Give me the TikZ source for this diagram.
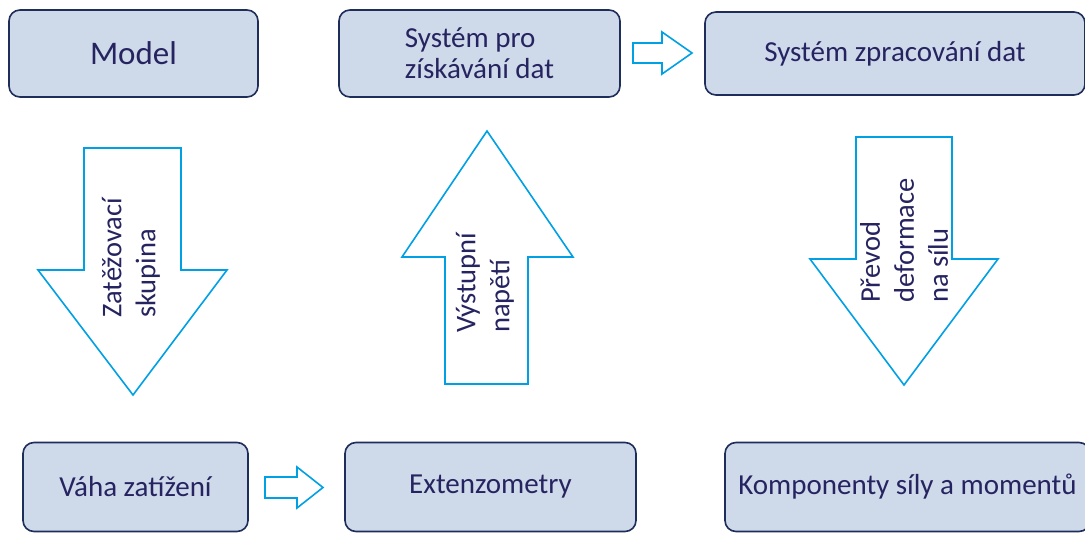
\documentclass[tikz,border=0pt]{standalone}
\usepackage{fontspec}
\setmainfont{Carlito}
\definecolor{boxfill}{RGB}{206,217,234}
\definecolor{boxline}{RGB}{31,45,90}
\definecolor{txt}{RGB}{38,36,96}
\definecolor{arrowblue}{RGB}{0,160,228}
\begin{document}
\begin{tikzpicture}[x=1pt,y=-1pt,
  boxnode/.style={draw=boxline,fill=boxfill,line width=1.6pt,rounded corners=11pt,
    text=txt,font=\fontsize{29}{31}\selectfont,align=left,inner sep=0pt},
  blockarrow/.style={draw=arrowblue,line width=1.6pt,fill=white,line join=miter},
  arrowtext/.style={rotate=90,anchor=west,inner sep=0pt,align=left,text=txt,
    font=\fontsize{28.5}{34}\selectfont}]
\useasboundingbox[fill=white] (0,0) rectangle (1085,533);
% top row
\node[boxnode,minimum width=249pt,minimum height=87pt,font=\fontsize{33}{36}\selectfont] (model) at (133.5,53.5) {Model};
\node[boxnode,minimum width=281pt,minimum height=87pt] (sber) at (479.5,53.5) {Systém pro\\získávání dat};
\node[boxnode,minimum width=380pt,minimum height=83pt] (zprac) at (895,53.5) {Systém zpracování dat};
% bottom row
\node[boxnode,minimum width=225pt,minimum height=89pt] (vaha) at (135.5,487) {Váha zatížení};
\node[boxnode,minimum width=291pt,minimum height=89pt] (ext) at (490.5,487) {Extenzometry};
\node[boxnode,minimum width=365pt,minimum height=89pt] (komp) at (907.5,487) {Komponenty síly a momentů};
% small horizontal block arrows
\draw[blockarrow] (633,43) -- (662,43) -- (662,32) -- (692,53) -- (662,74) -- (662,63) -- (633,63) -- cycle;
\draw[blockarrow] (265,477) -- (297,477) -- (297,467) -- (323,487.5) -- (297,508) -- (297,498) -- (265,498) -- cycle;
% large vertical block arrows
\draw[blockarrow] (84,148) -- (181,148) -- (181,270) -- (227,270) -- (133,395) -- (38,270) -- (84,270) -- cycle;
\draw[blockarrow] (445,384) -- (528,384) -- (528,257) -- (573,257) -- (487,131) -- (402,257) -- (445,257) -- cycle;
\draw[blockarrow] (856,137) -- (952,137) -- (952,259) -- (998,259) -- (904,385) -- (810,259) -- (856,259) -- cycle;
% arrow labels
\node[arrowtext] (lzat) at (131,318) {Zatěžovací\\skupina};
\node[arrowtext] (lvys) at (485,333) {Výstupní\\napětí};
\node[arrowtext] (lpre) at (904,303) {Převod\\deformace\\na sílu};
\end{tikzpicture}
\end{document}
